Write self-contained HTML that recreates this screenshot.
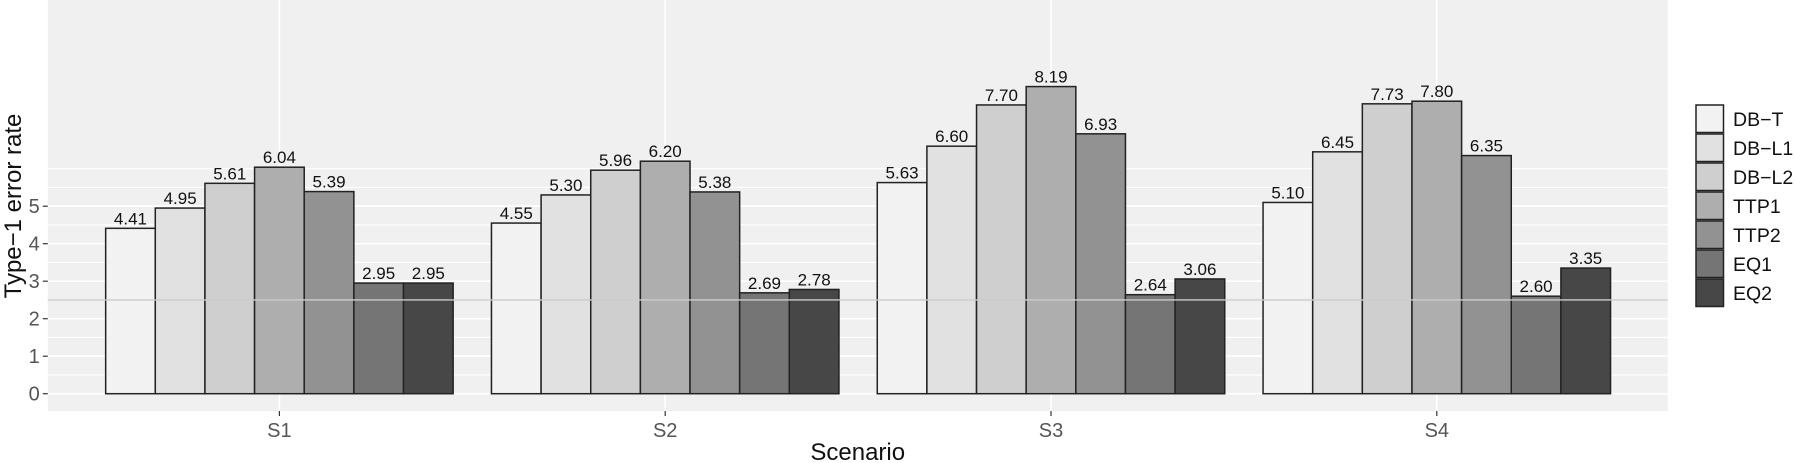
<!DOCTYPE html>
<html><head><meta charset="utf-8"><style>
html,body{margin:0;padding:0;background:#fff;}
svg{display:block;font-family:"Liberation Sans",Arial,sans-serif;}
</style></head><body>
<svg id="c" width="1795" height="463" xmlns="http://www.w3.org/2000/svg"></svg>
<script>
const s=document.getElementById('c');
let h='';
const L=47.8,R=1667.7,T=0,B=411,y0=393.7,k=37.5;
const Y=v=>y0-v*k;
h+=`<rect x="${L}" y="${T}" width="${R-L}" height="${B-T}" fill="#f0f0f0"/>`;
for(let v=0;v<=6.001;v+=0.5){const w=(Math.abs(v-Math.round(v))<0.01&&v<=5)?1.6:1.1;h+=`<line x1="${L}" x2="${R}" y1="${Y(v)}" y2="${Y(v)}" stroke="#fff" stroke-width="${w}"/>`;}
const cx=[279.4,665.2,1051,1436.8];
cx.forEach(c=>h+=`<line x1="${c}" x2="${c}" y1="${T}" y2="${B}" stroke="#fff" stroke-width="1.6"/>`);
const data=[[4.41,4.95,5.61,6.04,5.39,2.95,2.95],[4.55,5.30,5.96,6.20,5.38,2.69,2.78],[5.63,6.60,7.70,8.19,6.93,2.64,3.06],[5.10,6.45,7.73,7.80,6.35,2.60,3.35]];
const fills=['#f2f2f2','#e1e1e1','#cfcfcf','#aeaeaf','#929292','#757575','#474747'];
const bw=49.64;
data.forEach((g,i)=>{const x0=cx[i]-bw*3.5;g.forEach((v,j)=>{const x=x0+j*bw;h+=`<rect x="${x}" y="${Y(v)}" width="${bw}" height="${v*k}" fill="${fills[j]}" stroke="#222" stroke-width="1.5"/>`;});});
h+=`<line x1="${L}" x2="${R}" y1="${Y(2.5)}" y2="${Y(2.5)}" stroke="#cccccc" stroke-width="1.3"/>`;
data.forEach((g,i)=>{const x0=cx[i]-bw*3.5;g.forEach((v,j)=>{const x=x0+j*bw+bw/2;h+=`<text x="${x}" y="${Y(v)-4}" font-size="17" text-anchor="middle" fill="#111">${v.toFixed(2)}</text>`;});});
for(let v=0;v<=5;v++){h+=`<line x1="${L-5}" x2="${L}" y1="${Y(v)}" y2="${Y(v)}" stroke="#333" stroke-width="1.2"/><text x="${L-8}" y="${Y(v)+7}" font-size="20" text-anchor="end" fill="#555">${v}</text>`;}
['S1','S2','S3','S4'].forEach((t,i)=>{h+=`<line x1="${cx[i]}" x2="${cx[i]}" y1="${B}" y2="${B+5}" stroke="#333" stroke-width="1.2"/><text x="${cx[i]}" y="${B+26}" font-size="20" text-anchor="middle" fill="#555">${t}</text>`;});
h+=`<text x="${(L+R)/2}" y="460" font-size="24" text-anchor="middle" fill="#111">Scenario</text>`;
h+=`<text transform="translate(21,206) rotate(-90)" font-size="24" text-anchor="middle" fill="#111">Type−1 error rate</text>`;
const names=['DB−T','DB−L1','DB−L2','TTP1','TTP2','EQ1','EQ2'];
names.forEach((n,j)=>{const y=105+j*29;h+=`<rect x="1696" y="${y}" width="27.5" height="27.5" fill="${fills[j]}" stroke="#222" stroke-width="1.5"/><text x="1733" y="${y+21}" font-size="19.5" fill="#111">${n}</text>`;});
s.innerHTML=h;
</script>
</body></html>
